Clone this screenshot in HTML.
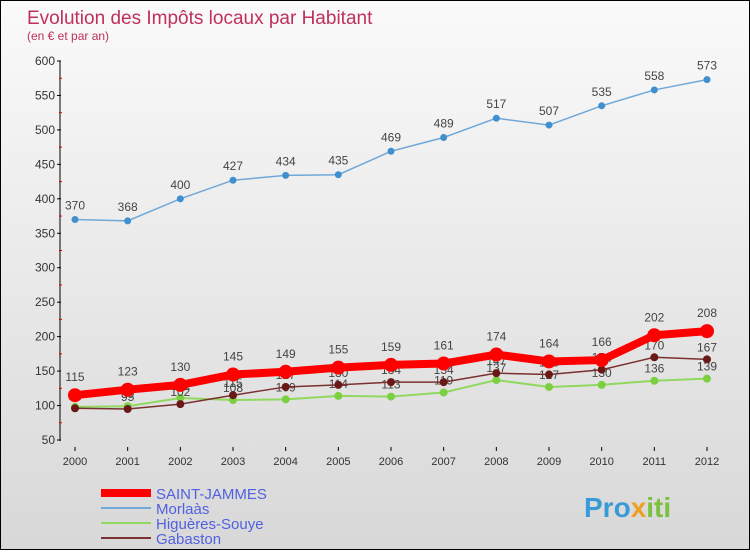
<!DOCTYPE html>
<html><head><meta charset="utf-8"><style>
body{margin:0;width:750px;height:550px;overflow:hidden;font-family:"Liberation Sans",sans-serif}
#wrap{position:relative;width:748px;height:548px;border:1px solid #000;background:linear-gradient(#fafafa,#d8d8d8)}
</style></head><body>
<div id="wrap">
<svg id="svg" width="748" height="548">
<text x="26" y="23" font-size="19" fill="#c0305a">Evolution des Impôts locaux par Habitant</text>
<text x="26" y="39" font-size="12" fill="#c0305a">(en € et par an)</text>
<g id="axes"></g><g id="series"></g><g id="legend"></g>
<text x="583" y="516" font-size="28" font-weight="bold" fill="#3a9ad8">Pro<tspan fill="#f0a020">x</tspan><tspan fill="#7cc040">iti</tspan></text>
</svg></div>
<script>
const years=[2000,2001,2002,2003,2004,2005,2006,2007,2008,2009,2010,2011,2012];
const yTicks=[50,100,150,200,250,300,350,400,450,500,550,600];
const saint=[115,123,130,145,149,155,159,161,174,164,166,202,208];
const morlaas=[370,368,400,427,434,435,469,489,517,507,535,558,573];
const higueres=[98,99,111,108,109,114,113,119,137,127,130,136,139];
const gabaston=[96,95,102,115,127,130,134,134,147,145,152,170,167];
const names=["SAINT-JAMMES","Morlaàs","Higuères-Souye","Gabaston"];
const NS="http://www.w3.org/2000/svg";
const X=i=>74+i*(706-74)/12, Y=v=>439-(v-50)*(439-60)/550;
function mk(t,a,p){const e=document.createElementNS(NS,t);for(const k in a)e.setAttribute(k,a[k]);p.appendChild(e);return e;}
const ax=document.getElementById('axes');
let l=mk('line',{x1:59,y1:60,x2:59,y2:440,stroke:'#000'},ax);

yTicks.forEach(v=>{mk('line',{x1:56,x2:60,y1:Y(v),y2:Y(v),stroke:'#000'},ax);
 if(v<600)mk('line',{x1:58,x2:61,y1:Y(v+25),y2:Y(v+25),stroke:'#d00'},ax);
 const t=mk('text',{x:54,y:Y(v)+4,'font-size':12,fill:'#333','text-anchor':'end'},ax);t.textContent=v;
 });
years.forEach((y,i)=>{mk('line',{x1:X(i),x2:X(i),y1:446,y2:450,stroke:'#000'},ax);
 const t=mk('text',{x:X(i),y:464,'font-size':11,fill:'#333','text-anchor':'middle'},ax);t.textContent=y;
 });
const sg=document.getElementById('series');
function draw(d,col,w,r,dot,name,lab){
 const g=mk('g',{},sg);
 mk('polyline',{points:d.map((v,i)=>X(i)+','+Y(v)).join(' '),fill:'none',stroke:col,'stroke-width':w},g);
 d.forEach((v,i)=>{const c=mk('circle',{cx:X(i),cy:Y(v),r:r,fill:dot},g);
  const t=mk('text',{x:X(i),y:Y(v)-(lab||10),'font-size':12,fill:'#444','text-anchor':'middle'},g);t.textContent=v;});}
draw(higueres,'#90d860',2,4,'#7cd040','higueres-souye',8);
draw(gabaston,'#7a3030',1.5,4,'#6a1818','gabaston',8);
draw(morlaas,'#70a8d8',1.5,3.5,'#4090d0','morlaas',10);
draw(saint,'#f00',8,7,'#f00','saint-jammes',14);
const lg=document.getElementById('legend');
const cols=['#f00','#70a8d8','#90d860','#7a3030'],ws=[8,2,2,2];
names.forEach((n,i)=>{const g=mk('g',{},lg);
 const y=492+i*15;mk('line',{x1:100,x2:150,y1:y,y2:y,stroke:cols[i],'stroke-width':ws[i]},g);
 const t=mk('text',{x:155,y:y+6,'font-size':15,fill:'#5060e0'},g);t.textContent=n;});
</script></body></html>
